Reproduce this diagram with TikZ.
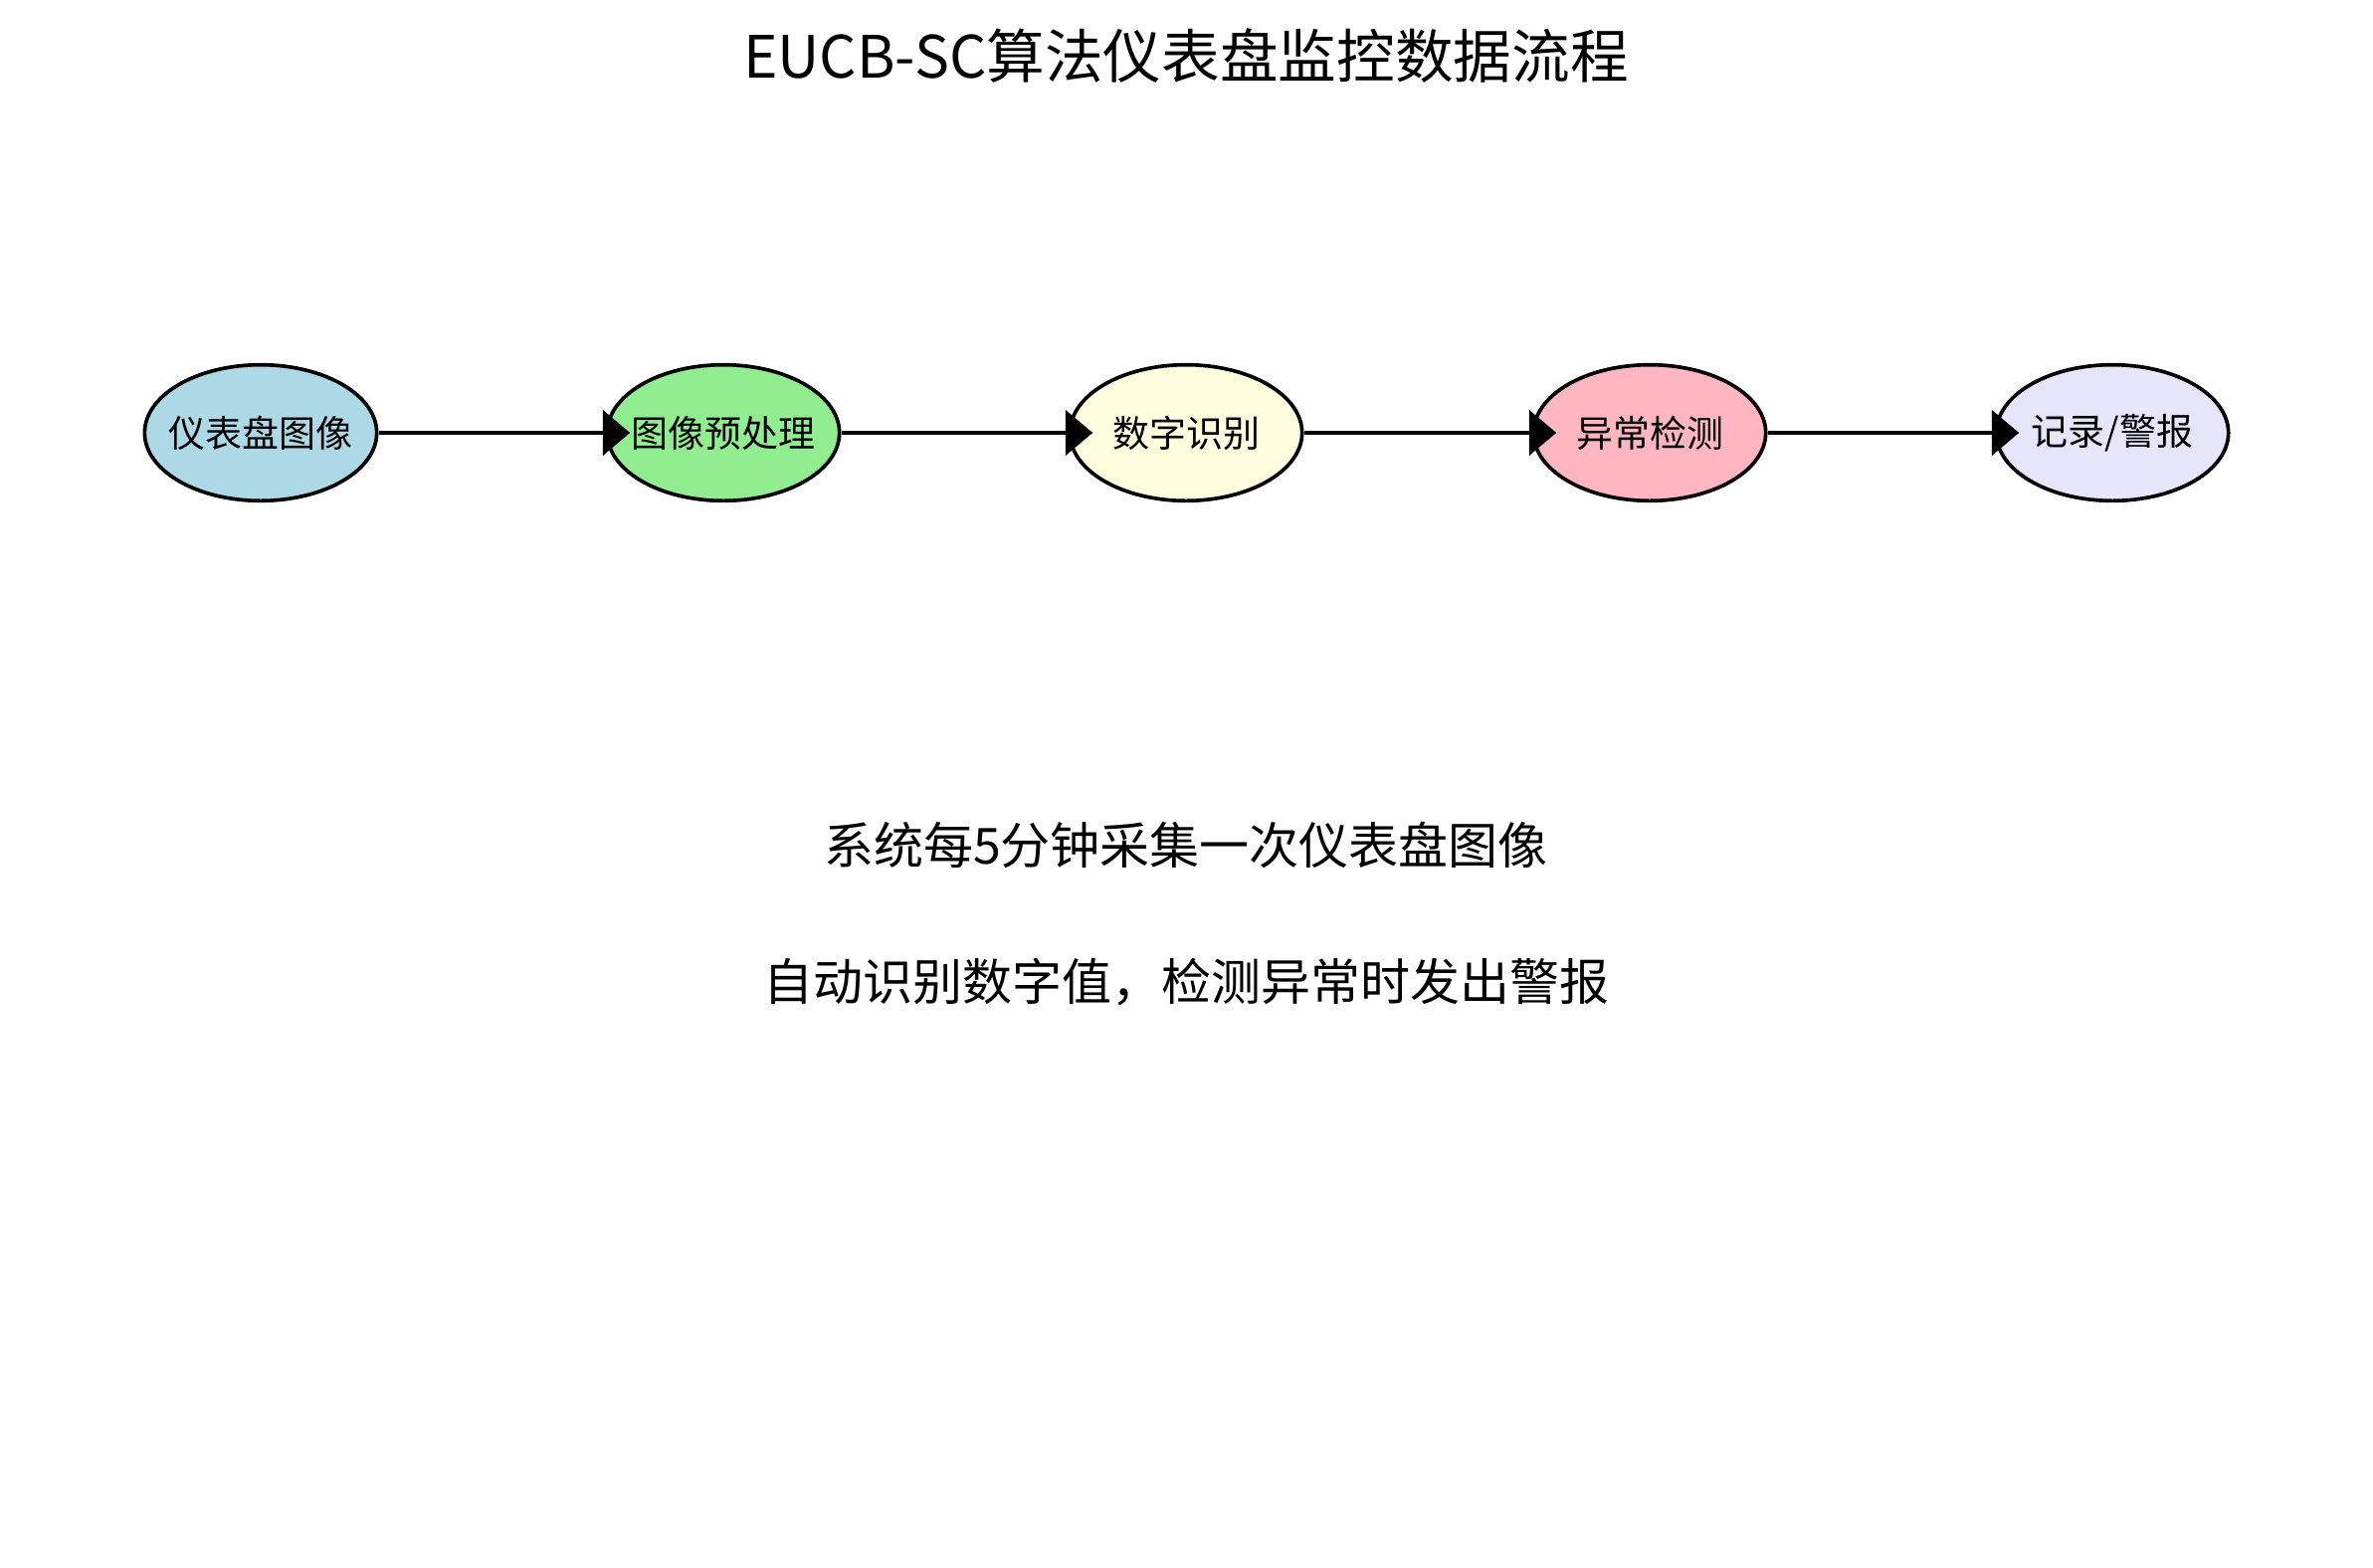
\documentclass[tikz,border=0pt]{standalone}
\usepackage{fontspec}
\setmainfont{Noto Sans CJK SC}
\usetikzlibrary{shapes.geometric}
\usetikzlibrary{arrows.meta}
\definecolor{cblue}{RGB}{173,216,230}
\definecolor{cgreen}{RGB}{144,238,144}
\definecolor{cyellow}{RGB}{255,255,224}
\definecolor{cpink}{RGB}{255,182,193}
\definecolor{clav}{RGB}{230,230,250}

\begin{document}
\begin{tikzpicture}[x=0.3pt,y=-0.3pt]
    \tikzset{stage/.style = {shape=ellipse,draw,line width=1.1pt,minimum width=70pt,minimum height=41pt,inner xsep=-3.6pt,inner ysep=0pt,font=\fontsize{11.1}{13}\selectfont}}
    \tikzset{note/.style = {shape=rectangle,draw=none,inner sep=0pt,font=\fontsize{15}{18}\selectfont}}
    \tikzset{edge/.style = {-{Triangle[length=8.2pt,width=13.6pt]},line width=1.1pt,shorten >=-7.4pt}}

    \useasboundingbox (0,0) rectangle (2385,1575);

    % title
    \node[note,font=\fontsize{17.6}{21}\selectfont] (title) at (1192,56) {EUCB-SC算法仪表盘监控数据流程};

    % stages
    \node[stage,fill=cblue] (img) at (262,435) {仪表盘图像};
    \node[stage,fill=cgreen] (pre) at (727,435) {图像预处理};
    \node[stage,fill=cyellow] (ocr) at (1192,435) {数字识别};
    \node[stage,fill=cpink] (det) at (1658,435) {异常检测};
    \node[stage,fill=clav] (alarm) at (2123,435) {记录/警报};

    % edges
    \draw[edge] (img) to (pre);
    \draw[edge] (pre) to (ocr);
    \draw[edge] (ocr) to (det);
    \draw[edge] (det) to (alarm);

    % notes
    \node[note] (n1) at (1192,849) {系统每5分钟采集一次仪表盘图像};
    \node[note] (n2) at (1192,987) {自动识别数字值，检测异常时发出警报};
\end{tikzpicture}
\end{document}
